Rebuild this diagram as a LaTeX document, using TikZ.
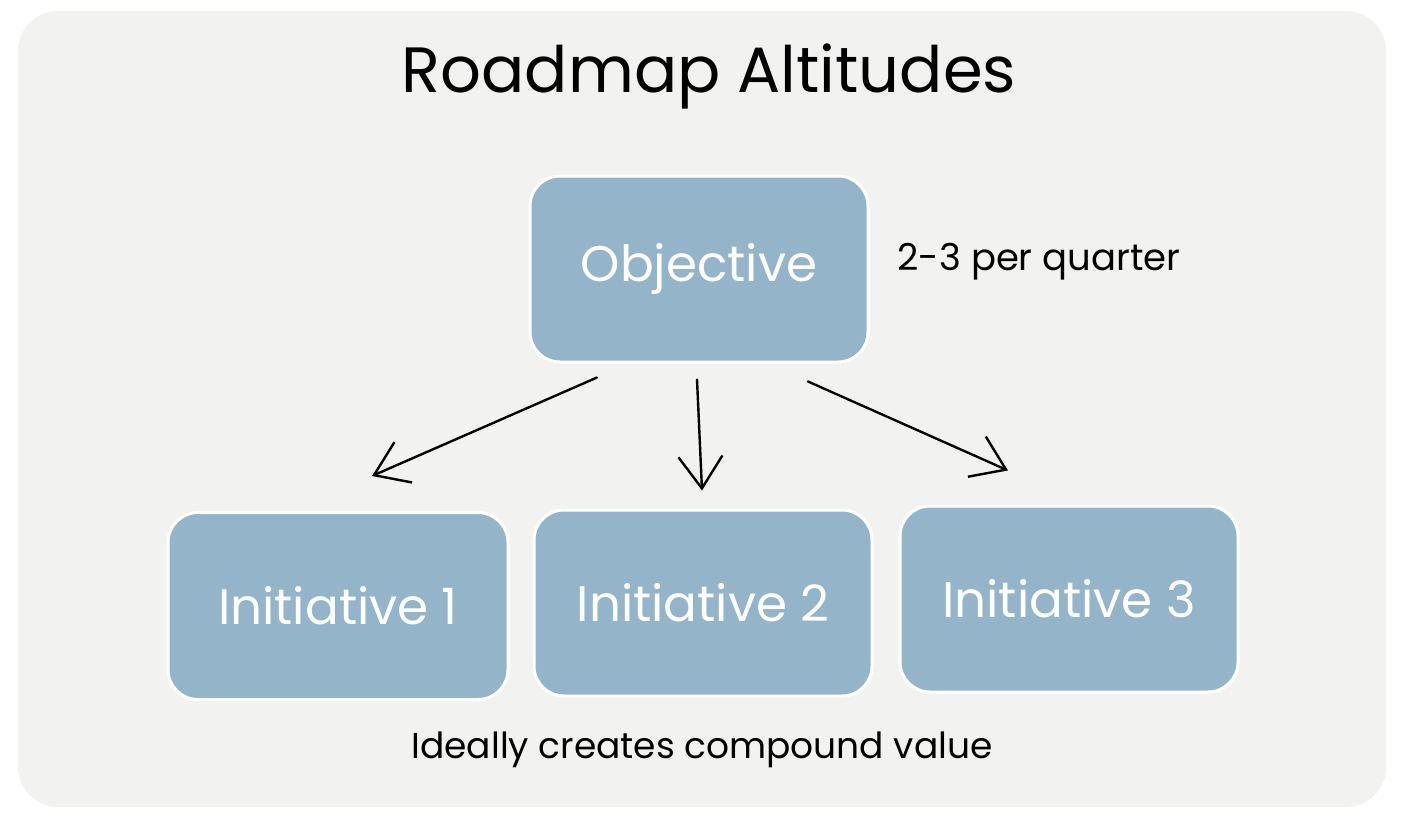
\documentclass[tikz,border=0pt]{standalone}
\usepackage{fontspec}
\setmainfont{Poppins}
\usetikzlibrary{calc,arrows.meta}
\definecolor{bgpanel}{HTML}{F2F3F1}
\definecolor{boxfill}{HTML}{94B5C9}
\tikzset{
  box/.style={draw=white, line width=3pt, fill=boxfill, rounded corners=30pt,
    minimum width=338pt, minimum height=186pt, text=white, font=\fontsize{50}{56}\selectfont, inner sep=0pt},
  conn/.style={draw=black, line width=2.4pt, line cap=round,
    -{Straight Barb[length=32pt,width=44pt,line width=2.4pt]}},
  note/.style={text=black, font=\fontsize{37}{44}\selectfont, inner sep=0pt}
}
\begin{document}
\begin{tikzpicture}[x=1pt,y=-1pt]
\useasboundingbox (0,0) rectangle (1404,824);
\fill[bgpanel, rounded corners=40pt] (18,11) rectangle (1386,807);
\node[font=\fontsize{64}{72}\selectfont, inner sep=0pt] (title) at (709,76) {Roadmap Altitudes};
\node[box] (obj) at (699,269) {Objective};
\node[box, minimum width=340pt, minimum height=187pt] (i1) at (338,606) {Initiative 1};
\node[box] (i2) at (703,603) {Initiative 2};
\node[box] (i3) at (1069,599) {Initiative 3};
\node[note] (freq) at (1039,262) {2-3 per quarter};
\node[note, font=\fontsize{36}{42}\selectfont] (value) at (702,750) {Ideally creates compound value};
\draw[conn] ($(obj.south)+(-102,14)$) -- ($(i1.north)+(34,-35)$);
\draw[conn] ($(obj.south)+(-2,16)$) -- ($(i2.north)+(-1,-18)$);
\draw[conn] ($(obj.south)+(109,18)$) -- ($(i3.north)+(-61,-34)$);
\end{tikzpicture}
\end{document}
